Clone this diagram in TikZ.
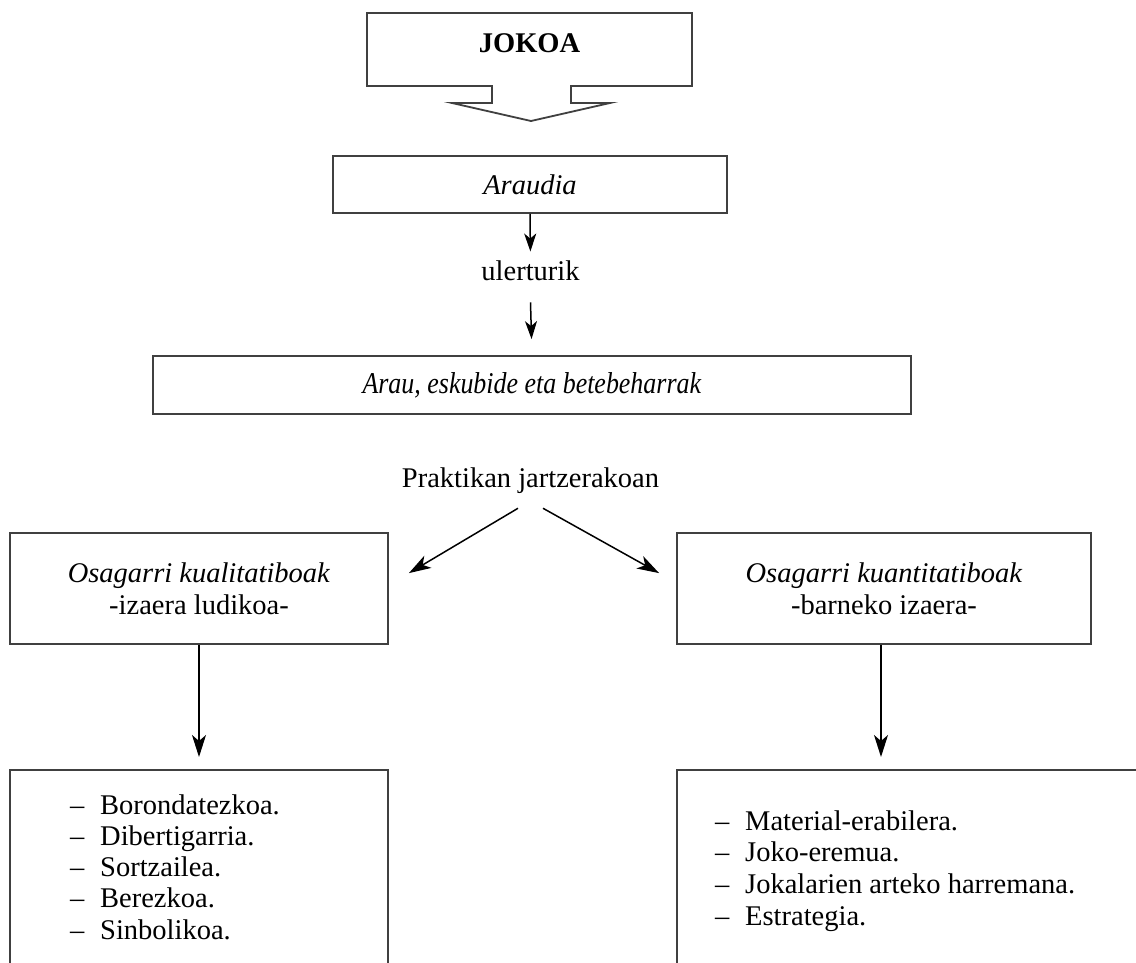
\documentclass[tikz,border=0pt]{standalone}
\usepackage{fontspec}
\usepackage{graphicx}
\setmainfont{Liberation Serif}
\usetikzlibrary{arrows.meta}
\definecolor{boxgray}{RGB}{64,64,64}
\begin{document}
\begin{tikzpicture}[x=1pt,y=-1pt,
  every node/.style={font=\fontsize{28.5}{32}\selectfont},
  boxline/.style={draw=boxgray, line width=1.8pt},
  box/.style={boxline, inner sep=0pt, align=center},
  arrS/.style={line width=1.5pt, -{Stealth[length=18pt,width=12pt,inset=5pt]}},
  arrL/.style={line width=1.5pt, -{Stealth[length=22pt,width=14pt,inset=6pt]}},
  listitem/.style={anchor=base west, inner sep=0pt}]
\useasboundingbox (0,0) rectangle (1136,963);
\fill[white] (0,0) rectangle (1136,963);

% top callout
\draw[boxline, line join=miter] (367,13) -- (692,13) -- (692,86) -- (571,86) -- (571,103) -- (610,103) -- (531,121) -- (452,103) -- (492,103) -- (492,86) -- (367,86) -- cycle;
\node[font=\fontsize{28.5}{32}\selectfont\bfseries, anchor=base, inner sep=0pt] (jokoa) at (529.5,53) {JOKOA};

\node[box, minimum width=394pt, minimum height=57pt] (araudia) at (530,184.5) {\textit{Araudia}};
\node[anchor=base, inner sep=0pt] (uler) at (530.5,280) {ulerturik};
\node[box, minimum width=758pt, minimum height=58pt] (arau) at (532,385) {\scalebox{0.91}[1.06]{\textit{Arau, eskubide eta betebeharrak}}};
\node[anchor=base, inner sep=0pt] (prakt) at (530.5,487) {Praktikan jartzerakoan};
\node[box, minimum width=378pt, minimum height=111pt] (kual) at (199,588.5) {\textit{Osagarri kualitatiboak}\\-izaera ludikoa-};
\node[box, minimum width=414pt, minimum height=111pt] (kuan) at (884,588.5) {\textit{Osagarri kuantitatiboak}\\-barneko izaera-};

% bottom open boxes
\draw[boxline] (10,963) -- (10,770) -- (388,770) -- (388,963);
\draw[boxline] (1136,770) -- (677,770) -- (677,963);
\coordinate (lb) at (199,770);
\coordinate (rb) at (881,770);

% connectors
\draw[arrS, shorten >=8.5pt] (araudia.south) -- (uler.north);
\draw[arrS, shorten >=16pt] ([yshift=-22pt]uler.south) -- (arau.north);
\draw[arrL] ([xshift=-12.5pt,yshift=-15pt]prakt.south) -- ([xshift=20pt,yshift=-41pt]kual.north east);
\draw[arrL] ([xshift=12.5pt,yshift=-15pt]prakt.south) -- ([xshift=-17pt,yshift=-41pt]kuan.north west);
\draw[arrL, shorten >=13pt] (kual.south) -- (lb);
\draw[arrL, shorten >=13pt] (kuan.south -| rb) -- (rb);

% lists
\foreach \t [count=\i] in {Borondatezkoa., Dibertigarria., Sortzailea., Berezkoa., Sinbolikoa.}
  \node[listitem] (la\i) at (70,{814+31.3*(\i-1)}) {\makebox[30pt][l]{–}\t};
\foreach \t [count=\i] in {Material-erabilera., Joko-eremua., Jokalarien arteko harremana., Estrategia.}
  \node[listitem] (lr\i) at (715,{830+31.7*(\i-1)}) {\makebox[30pt][l]{–}\t};
\end{tikzpicture}
\end{document}
